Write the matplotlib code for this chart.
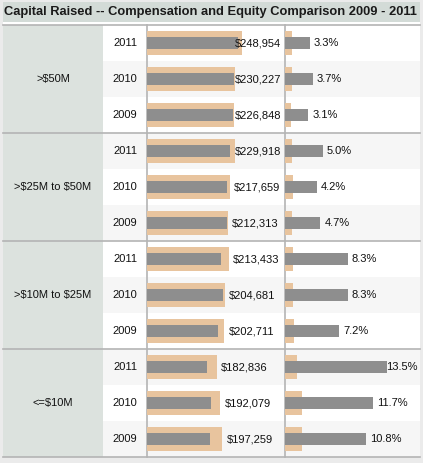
import matplotlib.pyplot as plt
from matplotlib.patches import Rectangle

# ---- data ----
groups = ['>$50M', '>$25M to $50M', '>$10M to $25M', '<=$10M']
years = ['2011', '2010', '2009']

# total compensation (tan bar, labelled)
comp_total = [248954, 230227, 226848,
              229918, 217659, 212313,
              213433, 204681, 202711,
              182836, 192079, 197259]
# inner gray bar in the compensation pane (estimated)
comp_inner = [238200, 228500, 224300,
              217300, 209400, 208600,
              193700, 199000, 185900,
              157000, 167500, 165000]
# equity %, gray bar (labelled)
equity_pct = [3.3, 3.7, 3.1,
              5.0, 4.2, 4.7,
              8.3, 8.3, 7.2,
              13.5, 11.7, 10.8]
# tan reference bar in the equity pane (estimated)
equity_ref = [0.89, 0.89, 0.76,
              0.89, 1.02, 0.89,
              1.02, 1.02, 1.15,
              1.55, 2.2, 2.2]

TAN = '#e8c49e'
GRAY = '#8e8e8e'
LINE = '#b4b4b4'
SHADE = '#f6f6f6'
HEAD = '#dce2de'
TXT = '#111111'
W, H = 423, 463
TOP, ROW = 25, 36
X_CAT, X_YEAR, X_P1, X_P2, X_END = 3, 103, 147, 285, 420
FS = 8.0

plt.rcParams['font.family'] = ['Liberation Sans', 'DejaVu Sans']
plt.rcParams['text.parse_math'] = False
fig = plt.figure(figsize=(W / 100, H / 100), dpi=100)
fig.patch.set_facecolor('#ebebeb')

# background "table" axes in pixel coordinates
bg = fig.add_axes([0, 0, 1, 1])
bg.set_xlim(0, W)
bg.set_ylim(H, 0)
bg.axis('off')
nrows = len(comp_total)
bottom = TOP + nrows * ROW
bg.add_patch(Rectangle((X_CAT, 2), X_END - X_CAT, TOP - 2, color='white', lw=0))
bg.add_patch(Rectangle((X_CAT, 2), X_END - X_CAT, 20, color='#d3dbd7', lw=0))
bg.text(X_CAT + 0.5, 12.5, 'Capital Raised -- Compensation and Equity Comparison 2009 - 2011',
        fontsize=9.3, fontweight='bold', color='#1a1a1a', va='center', ha='left')
bg.add_patch(Rectangle((X_CAT, TOP), X_YEAR - X_CAT, nrows * ROW, color=HEAD, lw=0))
for i in range(nrows):
    c = SHADE if i % 2 else 'white'
    bg.add_patch(Rectangle((X_YEAR, TOP + i * ROW), X_END - X_YEAR, ROW, color=c, lw=0))
    bg.text((X_YEAR + X_P1) / 2, TOP + (i + 0.5) * ROW, years[i % 3],
            fontsize=FS, ha='center', va='center', color=TXT)
for g, name in enumerate(groups):
    bg.text((X_CAT + X_YEAR) / 2, TOP + (g * 3 + 1.5) * ROW, name,
            fontsize=FS, ha='center', va='center', color=TXT)
    bg.plot([X_CAT, X_END], [TOP + g * 3 * ROW, TOP + g * 3 * ROW], color=LINE, lw=1.2)
bg.plot([X_CAT, X_END], [bottom, bottom], color=LINE, lw=1.2)
for x in (X_P1, X_P2):
    bg.plot([x, x], [TOP, bottom], color=LINE, lw=1.2, zorder=5)


def pane(x0, x1, xmax):
    ax = fig.add_axes([x0 / W, 1 - bottom / H, (x1 - x0) / W, nrows * ROW / H])
    ax.set_xlim(0, xmax)
    ax.set_ylim(nrows - 0.5, -0.5)
    ax.axis('off')
    ax.patch.set_alpha(0)
    return ax


def label(ax, x, y, text, wpx, scale, lim):
    # left of the bar end, pushed back inside the pane when it would overflow
    if x + (4 + wpx) / scale <= lim:
        ax.text(x + 4 / scale, y, text, ha='left', va='center', fontsize=FS, color=TXT)
    else:
        ax.text(lim, y, text, ha='right', va='center', fontsize=FS, color=TXT)


ypos = list(range(nrows))

# compensation pane
s1 = 0.000382  # px per dollar
ax1 = pane(X_P1, X_P2, (X_P2 - X_P1) / s1)
ax1.barh(ypos, comp_total, height=0.67, color=TAN, lw=0)
ax1.barh(ypos, comp_inner, height=0.33, color=GRAY, lw=0)
for y, v in zip(ypos, comp_total):
    label(ax1, v, y, '${:,}'.format(v), 45, s1, (281 - X_P1) / s1)

# equity pane
s2 = 7.54  # px per percent
ax2 = pane(X_P2, X_END, (X_END - X_P2) / s2)
ax2.barh(ypos, equity_ref, height=0.67, color=TAN, lw=0)
ax2.barh(ypos, equity_pct, height=0.33, color=GRAY, lw=0)
for y, v in zip(ypos, equity_pct):
    lab = '{:.1f}%'.format(v)
    label(ax2, v, y, lab, 6 * len(lab), s2, (418 - X_P2) / s2)

fig.savefig('out.png', dpi=100)
